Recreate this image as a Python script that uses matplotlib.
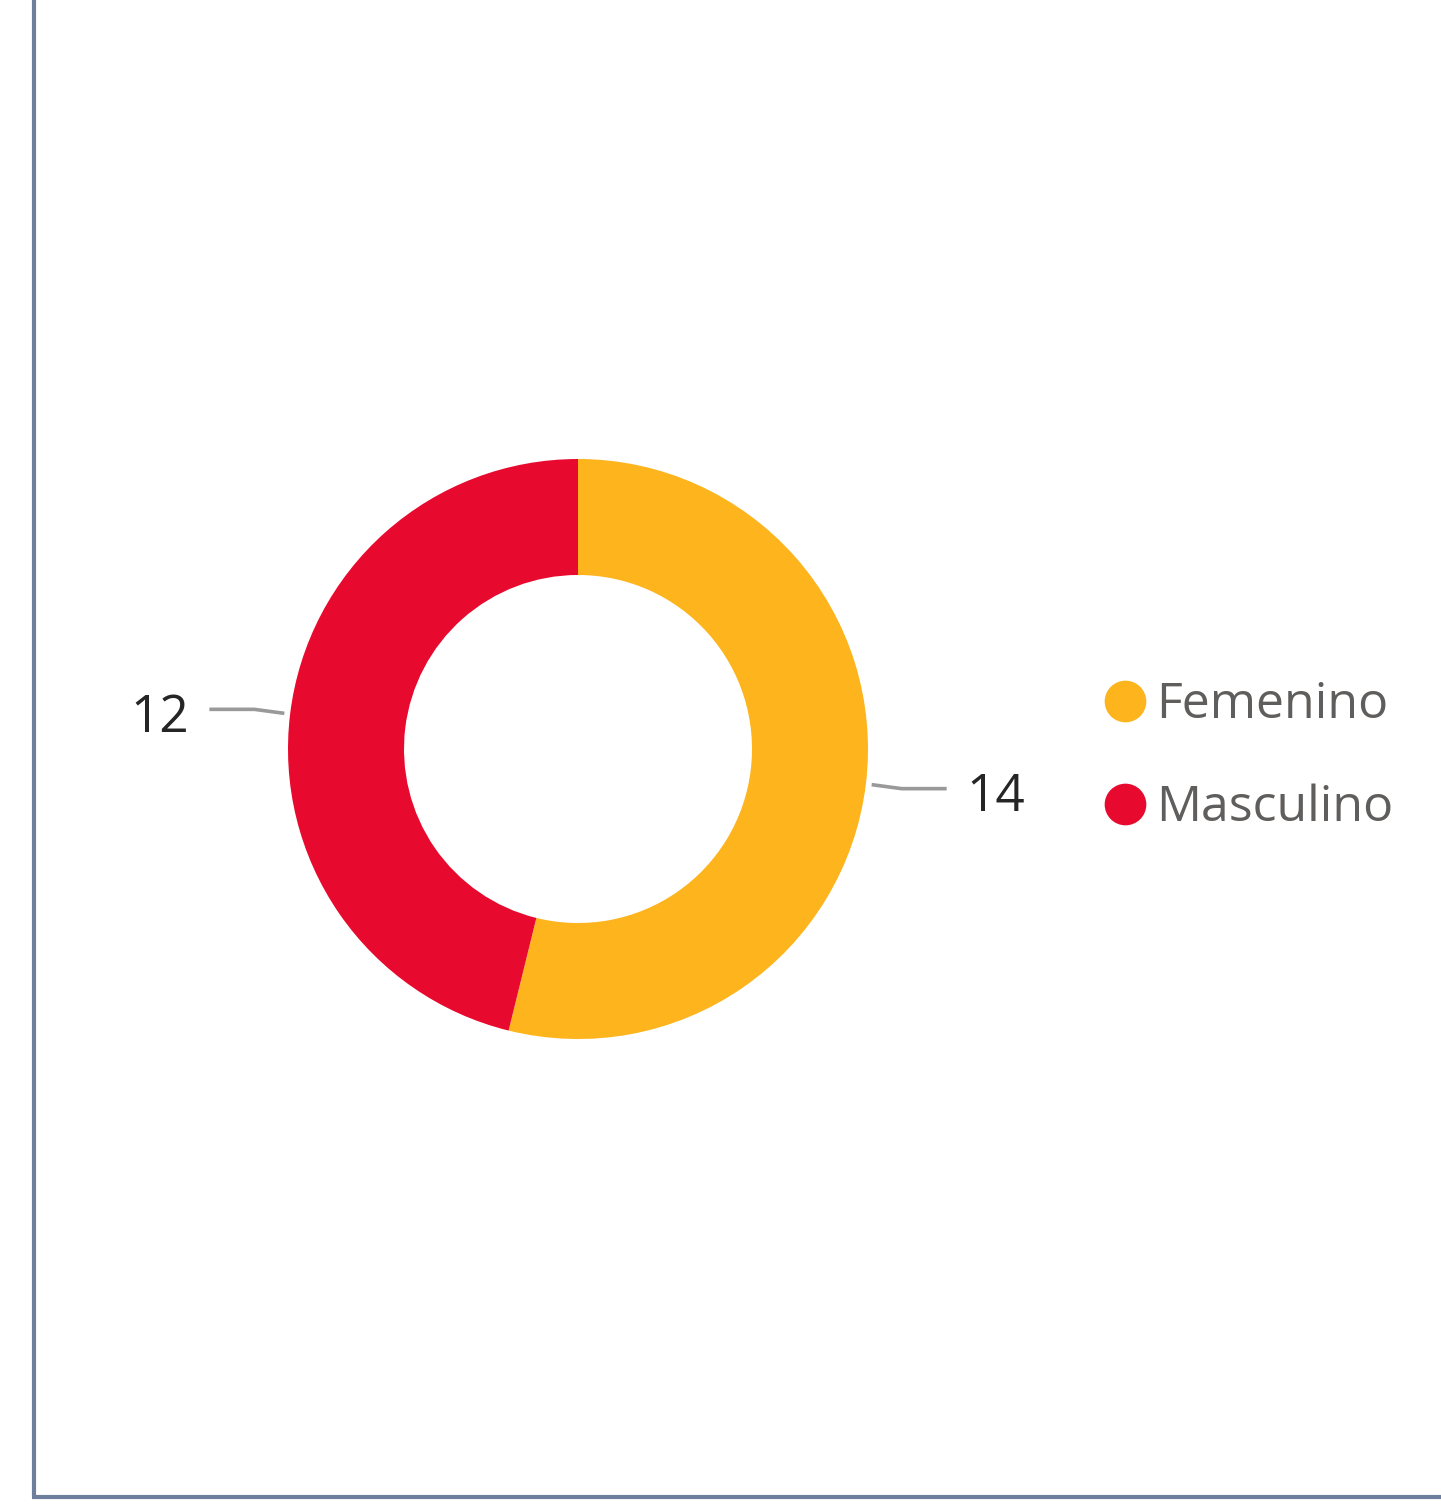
import numpy as np
import matplotlib
matplotlib.use("Agg")
import matplotlib.pyplot as plt

categories = ["Femenino", "Masculino"]
values = [14, 12]
colors = ["#FDB41D", "#E8092E"]

W, H = 1441, 1508
fig = plt.figure(figsize=(W / 100, H / 100), dpi=100)
ax = fig.add_axes([0, 0, 1, 1])
plt.rcParams['font.family'] = ['Open Sans', 'DejaVu Sans']

cx, cy = 578, H - 749
R = 290
wedges, _ = ax.pie(values, colors=colors, startangle=90, counterclock=False,
                   radius=R, center=(cx, cy),
                   wedgeprops=dict(width=R * 0.4, linewidth=0),
                   frame=True)

# leader lines and value labels
for w, v in zip(wedges, values):
    ang = np.deg2rad((w.theta1 + w.theta2) / 2)
    c, s = np.cos(ang), np.sin(ang)
    side = 1 if c >= 0 else -1
    x0, y0 = cx + 1.02 * R * c, cy + 1.02 * R * s
    x1, y1 = x0 + side * 30, y0 + (4 if s > 0 else -4)
    x2 = x1 + side * 45
    ax.plot([x0, x1, x2], [y0, y1, y1], color="#999999", lw=2.6,
            solid_capstyle="butt", zorder=3)
    ax.text(x2 + side * 20, y1 - 9, str(v), ha="left" if side > 0 else "right",
            va="center", fontsize=37, color="#252525")

# legend
lx, ly0, dy = 1125, H - 701, 103
for i, (lab, col) in enumerate(zip(categories, colors)):
    y = ly0 - i * dy
    ax.scatter([lx], [y], s=(30) ** 2, color=col, zorder=4, linewidths=0)
    ax.text(lx + 31, y - 4, lab, ha="left", va="center", fontsize=36,
            color="#605E5C")

# frame lines
ax.plot([33.5, 33.5], [H, H - 1497], color="#6E7F9D", lw=3, solid_capstyle="butt")
ax.plot([32, W], [H - 1497, H - 1497], color="#6E7F9D", lw=3, solid_capstyle="butt")

ax.set_xlim(0, W)
ax.set_ylim(0, H)
ax.set_aspect("auto")
ax.axis("off")
fig.savefig("out.png", dpi=100, facecolor="white")
